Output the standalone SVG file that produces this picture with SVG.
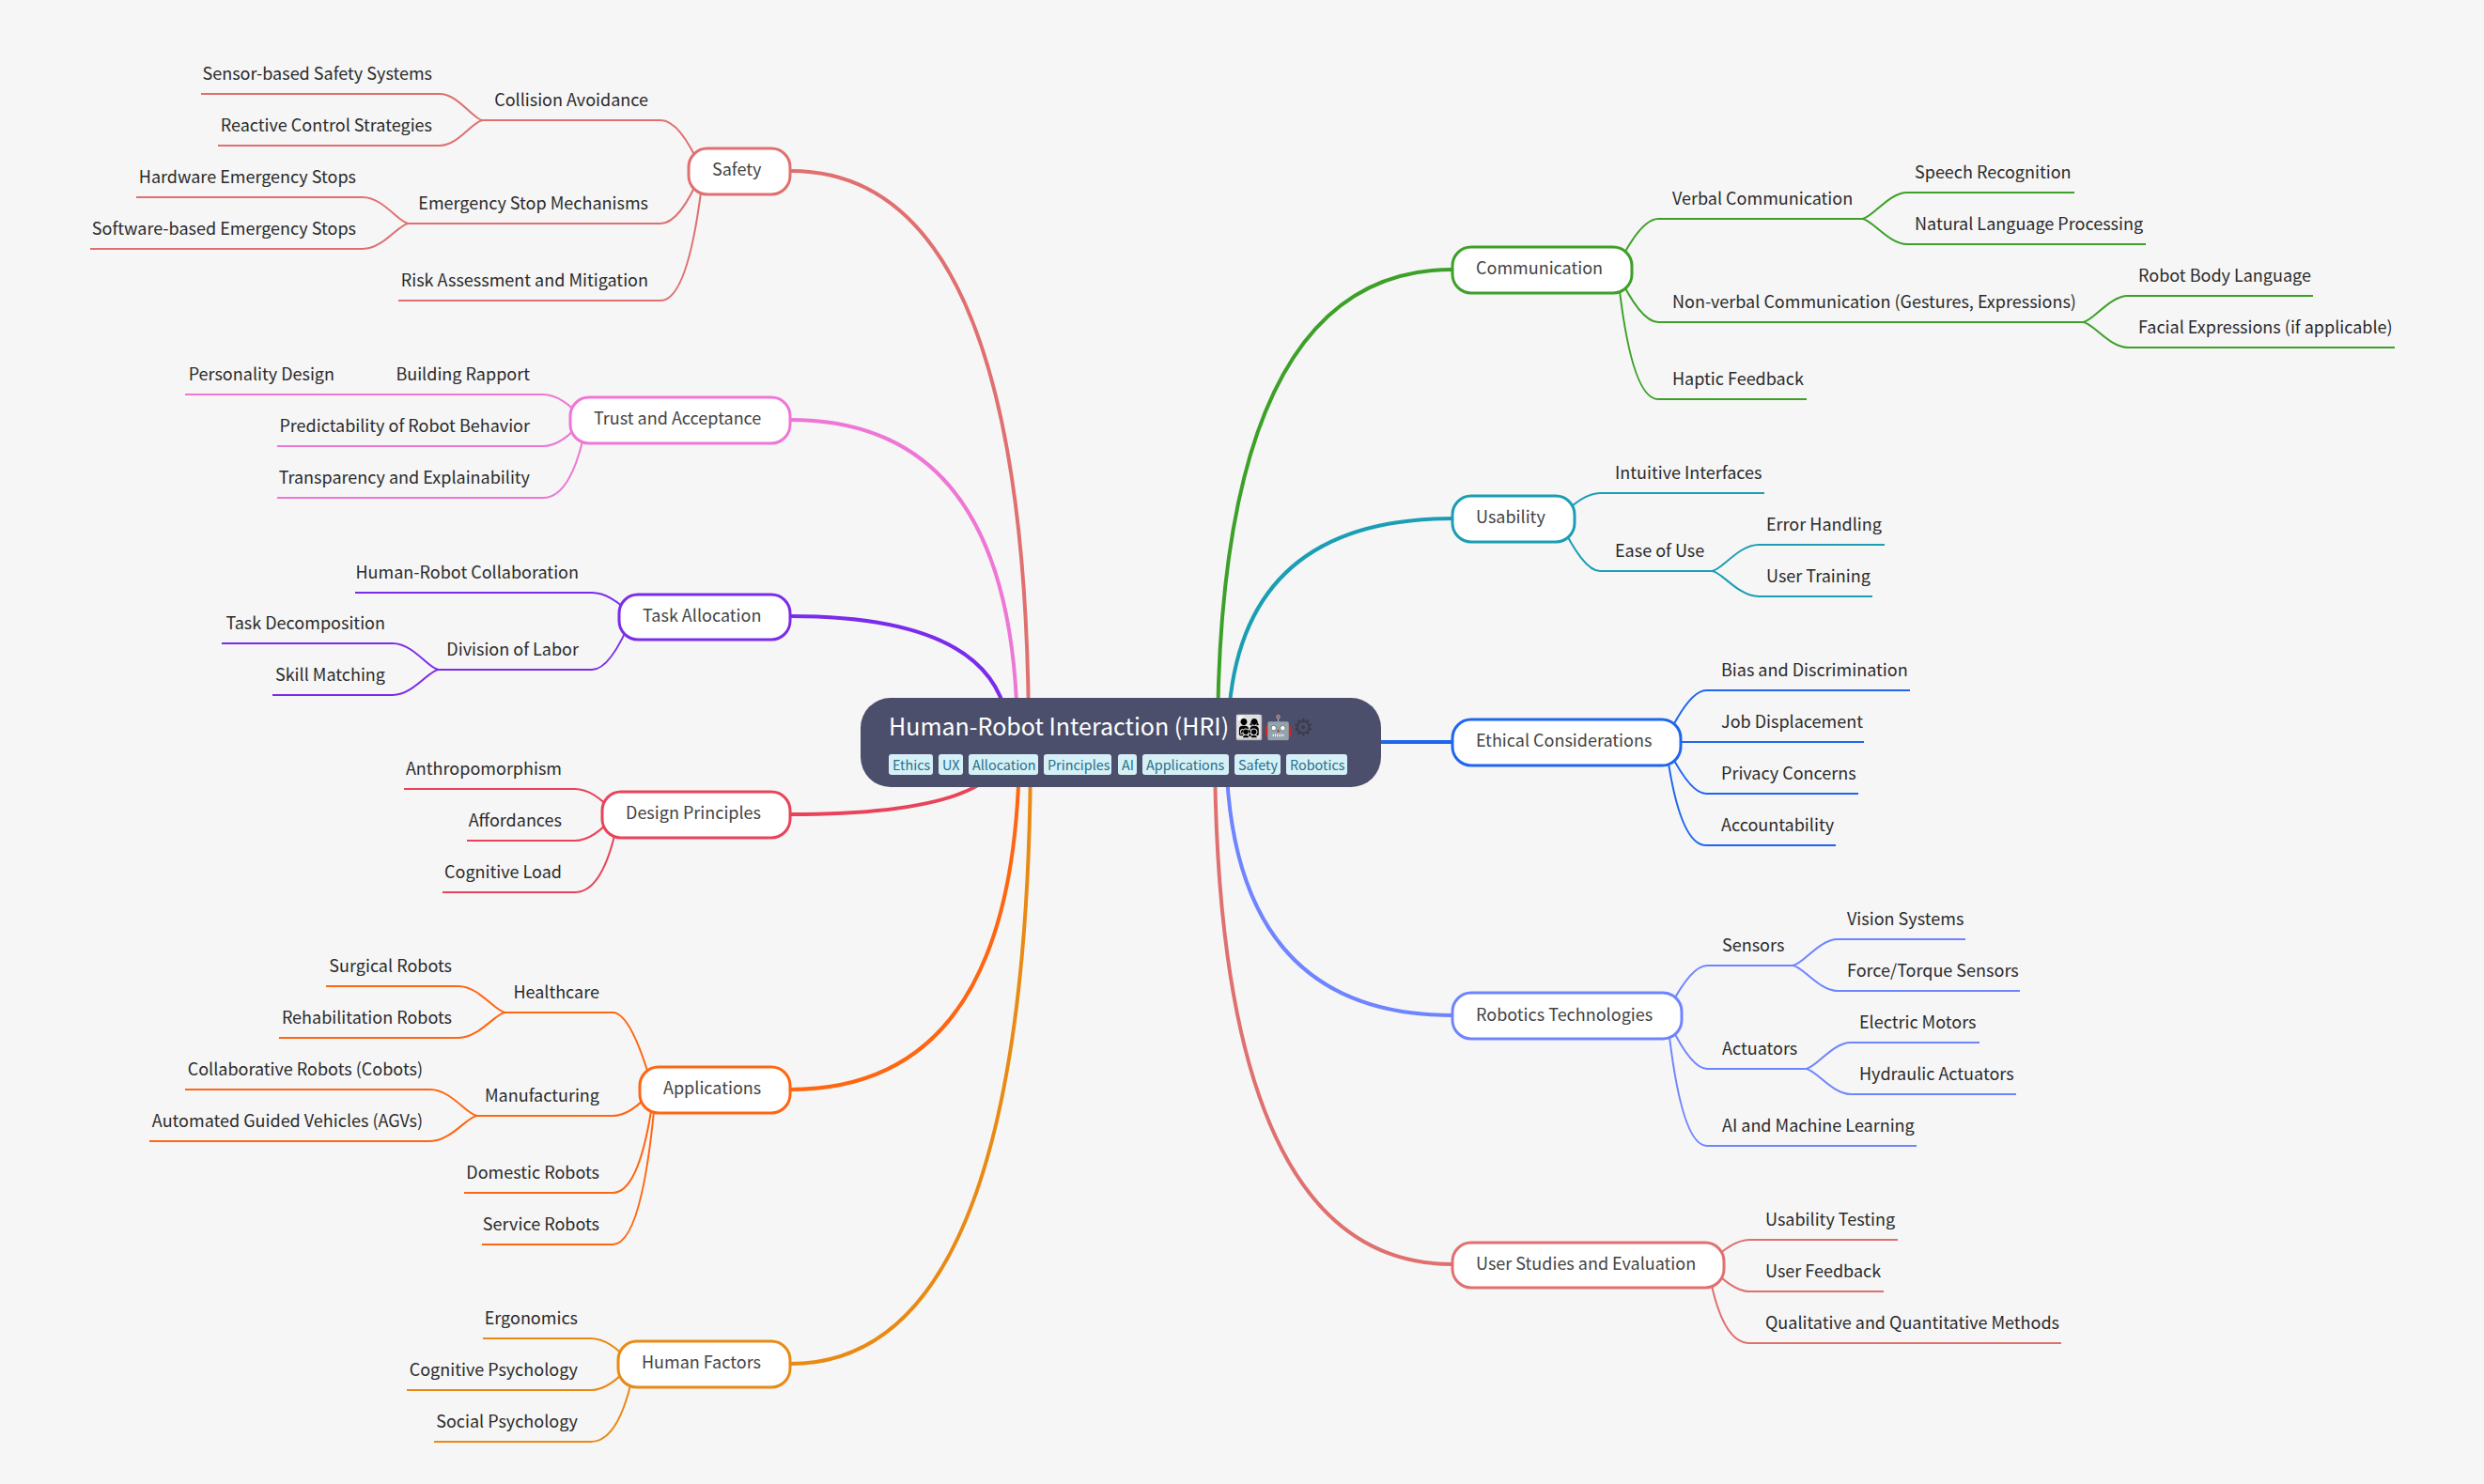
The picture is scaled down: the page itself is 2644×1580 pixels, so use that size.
<svg xmlns="http://www.w3.org/2000/svg" width="2644" height="1580" viewBox="0 0 2644 1580">
<style>
text{font-family:"Noto Sans CJK SC","Noto Sans",sans-serif}
.l text{font-size:18px;fill:#2b2b2b}
.e{text-anchor:end}
.n rect{fill:#fff;stroke-width:3}
.n text{font-size:18px;fill:#444}
#connectors path{fill:none;stroke-width:2}
#connectors path.m{stroke-width:4}
.tag rect{fill:#d6f0f8}
.tag text{font-size:14.4px;fill:#276f86}
.c1{stroke:#e07070}.c2{stroke:#ee77d5}.c3{stroke:#7b2cea}.c4{stroke:#e8435a}.c5{stroke:#ff6611}.c6{stroke:#e88a14}.c7{stroke:#3da028}.c8{stroke:#1b9eb3}.c9{stroke:#1f66ee}.c10{stroke:#6f85ff}
</style>
<rect width="2644" height="1580" fill="#f6f6f6"/>
<g id="connectors">
<g class="c1"><path class="m" d="M1095,790Q1095,182 842,182"/>
<path d="M747,182Q724,128 703,128H514"/><path d="M514,128C504,128 488,100 468,100H214"/><path d="M514,128C504,128 488,155 468,155H232"/>
<path d="M747,182Q724,238 703,238H435"/><path d="M435,238C425,238 408,210 386,210H145"/><path d="M435,238C425,238 408,265 386,265H96"/>
<path d="M746,205Q731,320 703,320H424"/></g>
<g class="c2"><path class="m" d="M1083,790Q1083,447 841,447"/>
<path d="M621,447Q598,420 578,420H197"/><path d="M621,447Q598,475 578,475H295"/><path d="M620,470Q605,530 578,530H295"/></g>
<g class="c3"><path class="m" d="M1074,790Q1074,656 841,656"/>
<path d="M673,656Q650,631 630,631H378"/><path d="M673,656Q650,713 630,713H467"/><path d="M467,713C457,713 440,685 418,685H236"/><path d="M467,713C457,713 440,740 418,740H290"/></g>
<g class="c4"><path class="m" d="M1072,790Q1072,867 841,867"/>
<path d="M655,867Q632,840 612,840H430"/><path d="M655,867Q632,895 612,895H497"/><path d="M654,890Q639,950 612,950H471"/></g>
<g class="c5"><path class="m" d="M1085,790Q1085,1160 841,1160"/>
<path d="M695,1160Q672,1078 652,1078H538"/><path d="M538,1078C528,1078 510,1050 488,1050H347"/><path d="M538,1078C528,1078 510,1105 488,1105H297"/>
<path d="M695,1160Q672,1188 652,1188H508"/><path d="M508,1188C498,1188 480,1160 458,1160H197"/><path d="M508,1188C498,1188 480,1215 458,1215H159"/>
<path d="M693,1183Q679,1270 652,1270H494"/><path d="M696,1183Q682,1325 652,1325H513"/></g>
<g class="c6"><path class="m" d="M1097,790Q1097,1452 841,1452"/>
<path d="M672,1452Q649,1425 629,1425H514"/><path d="M672,1452Q649,1480 629,1480H433"/><path d="M671,1475Q656,1535 629,1535H462"/></g>
<g class="c7"><path class="m" d="M1296,790Q1296,287 1546,287"/>
<path d="M1720,287Q1746,233 1765,233H1982"/><path d="M1982,233C1992,233 2010,205 2030,205H2208"/><path d="M1982,233C1992,233 2010,260 2030,260H2284"/>
<path d="M1720,287Q1746,343 1765,343H2217"/><path d="M2217,343C2227,343 2245,315 2265,315H2462"/><path d="M2217,343C2227,343 2245,370 2265,370H2549"/>
<path d="M1724,310Q1738,425 1765,425H1923"/></g>
<g class="c8"><path class="m" d="M1307,790Q1307,552 1546,552"/>
<path d="M1659,552Q1685,525 1703,525H1878"/><path d="M1659,552Q1685,608 1703,608H1822"/><path d="M1822,608C1832,608 1850,580 1872,580H2006"/><path d="M1822,608C1832,608 1850,635 1872,635H1993"/></g>
<g class="c9"><path class="m" d="M1318,790H1546"/>
<path d="M1772,790Q1798,735 1816,735H2033"/><path d="M1772,790H1984"/><path d="M1772,790Q1798,845 1816,845H1978"/><path d="M1776,813Q1790,900 1816,900H1954"/></g>
<g class="c10"><path class="m" d="M1305,790Q1305,1081 1546,1081"/>
<path d="M1773,1081Q1799,1028 1817,1028H1908"/><path d="M1908,1028C1918,1028 1936,1000 1956,1000H2092"/><path d="M1908,1028C1918,1028 1936,1055 1956,1055H2150"/>
<path d="M1773,1081Q1799,1138 1817,1138H1922"/><path d="M1922,1138C1932,1138 1950,1110 1970,1110H2107"/><path d="M1922,1138C1932,1138 1950,1165 1970,1165H2146"/>
<path d="M1777,1104Q1791,1220 1817,1220H2040"/></g>
<g class="c1"><path class="m" d="M1293,790Q1293,1346 1546,1346"/>
<path d="M1818,1346Q1844,1320 1862,1320H2020"/><path d="M1818,1346Q1844,1375 1862,1375H2005"/><path d="M1822,1369Q1836,1430 1862,1430H2194"/></g>
</g>
<g id="root"><rect x="916" y="743" width="554" height="95" rx="32" fill="#4c4f6b"/>
<text x="946" y="783" font-size="25" fill="#fff">Human-Robot Interaction (HRI) 👨‍👩‍👧‍👦🤖<tspan fill="#3a3c4d">⚙︎</tspan></text>
<g class="tag"><rect x="946" y="803" width="47" height="22" rx="3"/><text x="950" y="819.5">Ethics</text>
<rect x="999" y="803" width="26" height="22" rx="3"/><text x="1003" y="819.5">UX</text>
<rect x="1031" y="803" width="74" height="22" rx="3"/><text x="1035" y="819.5">Allocation</text>
<rect x="1111" y="803" width="72" height="22" rx="3"/><text x="1115" y="819.5">Principles</text>
<rect x="1190" y="803" width="20" height="22" rx="3"/><text x="1194" y="819.5">AI</text>
<rect x="1216" y="803" width="92" height="22" rx="3"/><text x="1220" y="819.5">Applications</text>
<rect x="1314" y="803" width="49" height="22" rx="3"/><text x="1318" y="819.5">Safety</text>
<rect x="1369" y="803" width="65" height="22" rx="3"/><text x="1373" y="819.5">Robotics</text></g></g>
<g id="safety" class="n"><rect class="c1" x="733" y="158" width="108" height="49" rx="20"/><text x="758" y="187">Safety</text></g>
<g id="trust" class="n"><rect class="c2" x="607" y="423" width="234" height="49" rx="20"/><text x="632" y="452">Trust and Acceptance</text></g>
<g id="task" class="n"><rect class="c3" x="659" y="633" width="182" height="48" rx="20"/><text x="684" y="662">Task Allocation</text></g>
<g id="design" class="n"><rect class="c4" x="641" y="843" width="200" height="49" rx="20"/><text x="666" y="872">Design Principles</text></g>
<g id="applications" class="n"><rect class="c5" x="681" y="1136" width="160" height="49" rx="20"/><text x="706" y="1165">Applications</text></g>
<g id="human" class="n"><rect class="c6" x="658" y="1428" width="183" height="49" rx="20"/><text x="683" y="1457">Human Factors</text></g>
<g id="communication" class="n"><rect class="c7" x="1546" y="263" width="191" height="49" rx="20"/><text x="1571" y="292">Communication</text></g>
<g id="usability" class="n"><rect class="c8" x="1546" y="528" width="130" height="49" rx="20"/><text x="1571" y="557">Usability</text></g>
<g id="ethical" class="n"><rect class="c9" x="1546" y="766" width="243" height="49" rx="20"/><text x="1571" y="795">Ethical Considerations</text></g>
<g id="robotics" class="n"><rect class="c10" x="1546" y="1057" width="244" height="49" rx="20"/><text x="1571" y="1087">Robotics Technologies</text></g>
<g id="studies" class="n"><rect class="c1" x="1546" y="1323" width="289" height="48" rx="20"/><text x="1571" y="1352">User Studies and Evaluation</text></g>
<g class="l">
<g id="t1"><text class="e" x="460" y="85">Sensor-based Safety Systems</text></g>
<g id="t2"><text class="e" x="460" y="140">Reactive Control Strategies</text></g>
<g id="t3"><text class="e" x="690" y="113">Collision Avoidance</text></g>
<g id="t4"><text class="e" x="379" y="195">Hardware Emergency Stops</text></g>
<g id="t5"><text class="e" x="379" y="250">Software-based Emergency Stops</text></g>
<g id="t6"><text class="e" x="690" y="223">Emergency Stop Mechanisms</text></g>
<g id="t7"><text class="e" x="690" y="305">Risk Assessment and Mitigation</text></g>
<g id="t8"><text class="e" x="356" y="405">Personality Design</text></g>
<g id="t9"><text class="e" x="564" y="405">Building Rapport</text></g>
<g id="t10"><text class="e" x="564" y="460">Predictability of Robot Behavior</text></g>
<g id="t11"><text class="e" x="564" y="515">Transparency and Explainability</text></g>
<g id="t12"><text class="e" x="616" y="616">Human-Robot Collaboration</text></g>
<g id="t13"><text class="e" x="410" y="670">Task Decomposition</text></g>
<g id="t14"><text class="e" x="410" y="725">Skill Matching</text></g>
<g id="t15"><text class="e" x="616" y="698">Division of Labor</text></g>
<g id="t16"><text class="e" x="598" y="825">Anthropomorphism</text></g>
<g id="t17"><text class="e" x="598" y="880">Affordances</text></g>
<g id="t18"><text class="e" x="598" y="935">Cognitive Load</text></g>
<g id="t19"><text class="e" x="481" y="1035">Surgical Robots</text></g>
<g id="t20"><text class="e" x="481" y="1090">Rehabilitation Robots</text></g>
<g id="t21"><text class="e" x="638" y="1063">Healthcare</text></g>
<g id="t22"><text class="e" x="450" y="1145">Collaborative Robots (Cobots)</text></g>
<g id="t23"><text class="e" x="450" y="1200">Automated Guided Vehicles (AGVs)</text></g>
<g id="t24"><text class="e" x="638" y="1173">Manufacturing</text></g>
<g id="t25"><text class="e" x="638" y="1255">Domestic Robots</text></g>
<g id="t26"><text class="e" x="638" y="1310">Service Robots</text></g>
<g id="t27"><text class="e" x="615" y="1410">Ergonomics</text></g>
<g id="t28"><text class="e" x="615" y="1465">Cognitive Psychology</text></g>
<g id="t29"><text class="e" x="615" y="1520">Social Psychology</text></g>
<g id="t30"><text x="1780" y="218">Verbal Communication</text></g>
<g id="t31"><text x="2038" y="190">Speech Recognition</text></g>
<g id="t32"><text x="2038" y="245">Natural Language Processing</text></g>
<g id="t33"><text x="1780" y="328">Non-verbal Communication (Gestures, Expressions)</text></g>
<g id="t34"><text x="2276" y="300">Robot Body Language</text></g>
<g id="t35"><text x="2276" y="355">Facial Expressions (if applicable)</text></g>
<g id="t36"><text x="1780" y="410">Haptic Feedback</text></g>
<g id="t37"><text x="1719" y="510">Intuitive Interfaces</text></g>
<g id="t38"><text x="1719" y="593">Ease of Use</text></g>
<g id="t39"><text x="1880" y="565">Error Handling</text></g>
<g id="t40"><text x="1880" y="620">User Training</text></g>
<g id="t41"><text x="1832" y="720">Bias and Discrimination</text></g>
<g id="t42"><text x="1832" y="775">Job Displacement</text></g>
<g id="t43"><text x="1832" y="830">Privacy Concerns</text></g>
<g id="t44"><text x="1832" y="885">Accountability</text></g>
<g id="t45"><text x="1833" y="1013">Sensors</text></g>
<g id="t46"><text x="1966" y="985">Vision Systems</text></g>
<g id="t47"><text x="1966" y="1040">Force/Torque Sensors</text></g>
<g id="t48"><text x="1833" y="1123">Actuators</text></g>
<g id="t49"><text x="1979" y="1095">Electric Motors</text></g>
<g id="t50"><text x="1979" y="1150">Hydraulic Actuators</text></g>
<g id="t51"><text x="1833" y="1205">AI and Machine Learning</text></g>
<g id="t52"><text x="1879" y="1305">Usability Testing</text></g>
<g id="t53"><text x="1879" y="1360">User Feedback</text></g>
<g id="t54"><text x="1879" y="1415">Qualitative and Quantitative Methods</text></g>
</g>
</svg>
